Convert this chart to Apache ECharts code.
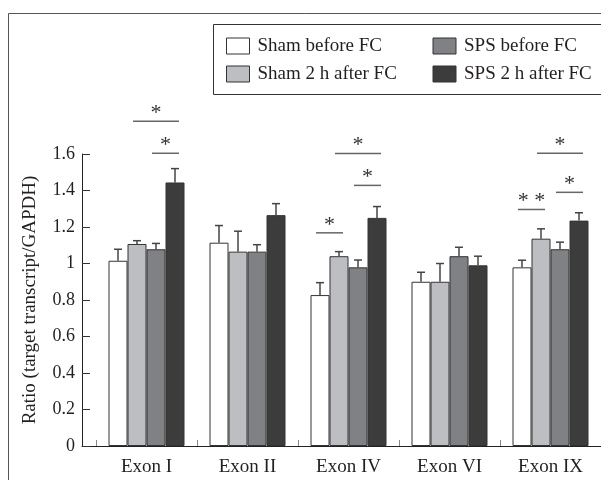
<!DOCTYPE html>
<html>
<head>
<meta charset="utf-8">
<script src="https://cdn.jsdelivr.net/npm/echarts@6/dist/echarts.min.js"></script>
<style>
  html, body { margin: 0; padding: 0; background: #fff; }
  #chart { width: 601px; height: 480px; }
</style>
</head>
<body>
<div id="chart"></div>
<script>
const exons = ["Exon I", "Exon II", "Exon IV", "Exon VI", "Exon IX"];
const yTicks = [0, 0.2, 0.4, 0.6, 0.8, 1, 1.2, 1.4, 1.6];

const shamBefore = [1.015, 1.114, 0.827, 0.9, 0.979];
const shamBeforeErr = [0.063, 0.094, 0.068, 0.052, 0.039];
const shamAfter = [1.107, 1.065, 1.04, 0.9, 1.136];
const shamAfterErr = [0.018, 0.112, 0.025, 0.1, 0.054];
const spsBefore = [1.078, 1.065, 0.979, 1.04, 1.078];
const spsBeforeErr = [0.032, 0.038, 0.04, 0.049, 0.039];
const spsAfter = [1.444, 1.265, 1.25, 0.99, 1.235];
const spsAfterErr = [0.076, 0.063, 0.062, 0.05, 0.043];

// significance bars: [exon index, from bar, to bar, height, mark]
const brackets = [
  [0, 1, 3, 1.78, "*"],
  [0, 2, 3, 1.604, "*"],
  [2, 1, 3, 1.603, "*"],
  [2, 2, 3, 1.428, "*"],
  [2, 0, 1, 1.168, "*"],
  [4, 1, 3, 1.604, "*"],
  [4, 2, 3, 1.39, "*"],
  [4, 0, 1, 1.296, "* *"],
];

const FONT = "Liberation Serif";
const TEXT = "#231f20";
const BAR_W = 19;

const groups = [
  { name: "Sham before FC", values: shamBefore, err: shamBeforeErr, color: "#ffffff" },
  { name: "Sham 2 h after FC", values: shamAfter, err: shamAfterErr, color: "#bdbec2" },
  { name: "SPS before FC", values: spsBefore, err: spsBeforeErr, color: "#808184" },
  { name: "SPS 2 h after FC", values: spsAfter, err: spsAfterErr, color: "#3c3c3c" },
];

const chart = echarts.init(document.getElementById("chart"));

function barOffset(i) {
  return (i - (groups.length - 1) / 2) * BAR_W;
}

const barSeries = groups.map((g) => ({
  name: g.name,
  type: "bar",
  xAxisIndex: 0,
  yAxisIndex: 0,
  barWidth: BAR_W,
  barGap: "0%",
  data: g.values,
  itemStyle: { color: g.color, borderColor: "#333", borderWidth: 1 },
  z: 2,
}));

const errSeries = groups.map((g, gi) => ({
  type: "custom",
  xAxisIndex: 0,
  yAxisIndex: 0,
  clip: false,
  z: 3,
  data: g.values.map((v, i) => [i, v, g.err[i]]),
  renderItem: (params, api) => {
    const base = api.coord([api.value(0), api.value(1)]);
    const top = api.coord([api.value(0), api.value(1) + api.value(2)]);
    const x = base[0] + barOffset(gi);
    const style = { stroke: "#444", lineWidth: 1.5 };
    return {
      type: "group",
      children: [
        { type: "line", shape: { x1: x, y1: base[1], x2: x, y2: top[1] }, style },
        { type: "line", shape: { x1: x - 4, y1: top[1], x2: x + 4, y2: top[1] }, style },
      ],
    };
  },
}));

const bracketSeries = {
  type: "custom",
  xAxisIndex: 0,
  yAxisIndex: 0,
  clip: false,
  z: 4,
  data: brackets.map((b) => [b[0], b[3]]),
  renderItem: (params, api) => {
    const b = brackets[params.dataIndex];
    const p = api.coord([api.value(0), api.value(1)]);
    const x1 = p[0] + barOffset(b[1]) - 4;
    const x2 = p[0] + barOffset(b[2]) + 4;
    return {
      type: "group",
      children: [
        { type: "line", shape: { x1, y1: p[1], x2, y2: p[1] }, style: { stroke: "#666", lineWidth: 1.5 } },
        {
          type: "text",
          x: (x1 + x2) / 2,
          y: p[1] + 3,
          style: {
            text: b[4],
            fontFamily: FONT,
            fontSize: 22,
            fill: "#333",
            align: "center",
            verticalAlign: "bottom",
          },
        },
      ],
    };
  },
};

chart.setOption({
  animation: false,
  backgroundColor: "#fff",
  textStyle: { fontFamily: FONT, color: TEXT },
  graphic: [
    {
      // outer figure frame, open to the right and bottom
      type: "rect",
      x: 8.5,
      y: 13.5,
      shape: { x: 0, y: 0, width: 700, height: 600 },
      style: { fill: "none", stroke: "#555", lineWidth: 1 },
      silent: true,
    },
    {
      // legend box, runs off the right edge
      type: "rect",
      x: 213.5,
      y: 24.5,
      shape: { x: 0, y: 0, width: 500, height: 70 },
      style: { fill: "none", stroke: "#333", lineWidth: 1 },
      silent: true,
    },
  ],
  legend: {
    left: 213,
    top: 24,
    width: 420,
    orient: "horizontal",
    itemWidth: 23,
    itemHeight: 16,
    itemGap: 8,
    padding: [12, 10, 10, 13],
    selectedMode: false,
    icon: "rect",
    itemStyle: { borderColor: "#333", borderWidth: 1 },
    textStyle: {
      fontFamily: FONT,
      fontSize: 19,
      color: TEXT,
      width: 167,
      lineHeight: 20,
      padding: [0, 0, 0, 3],
    },
    data: ["Sham before FC", "SPS before FC", "Sham 2 h after FC", "SPS 2 h after FC"],
  },
  grid: [
    { left: 96, right: 0, top: 154, bottom: 34 },
    { left: 82, right: 0, top: 154, bottom: 34 },
  ],
  xAxis: [
    {
      type: "category",
      gridIndex: 0,
      data: exons,
      axisLine: { show: true, lineStyle: { color: "#222", width: 1 } },
      axisTick: { show: true, inside: true, length: 6, lineStyle: { color: "#888" } },
      axisLabel: { fontFamily: FONT, fontSize: 19, color: TEXT, margin: 12 },
    },
    {
      type: "value",
      gridIndex: 1,
      min: 0,
      max: 1,
      axisLine: { show: true, lineStyle: { color: "#222", width: 1 } },
      axisTick: { show: false },
      axisLabel: { show: false },
      splitLine: { show: false },
    },
  ],
  yAxis: [
    {
      type: "value",
      gridIndex: 0,
      min: yTicks[0],
      max: yTicks[yTicks.length - 1],
      interval: yTicks[1] - yTicks[0],
      offset: 14,
      name: "Ratio (target transcript/GAPDH)",
      nameLocation: "middle",
      nameGap: 42,
      nameTextStyle: { fontFamily: FONT, fontSize: 19, color: TEXT },
      axisLine: { show: true, lineStyle: { color: "#222", width: 1 } },
      axisTick: { show: true, inside: true, length: 8, lineStyle: { color: "#333" } },
      axisLabel: { fontFamily: FONT, fontSize: 18, color: TEXT, margin: 7 },
      splitLine: { show: false },
    },
    { type: "value", gridIndex: 1, show: false },
  ],
  series: [...barSeries, ...errSeries, bracketSeries],
});
</script>
</body>
</html>
